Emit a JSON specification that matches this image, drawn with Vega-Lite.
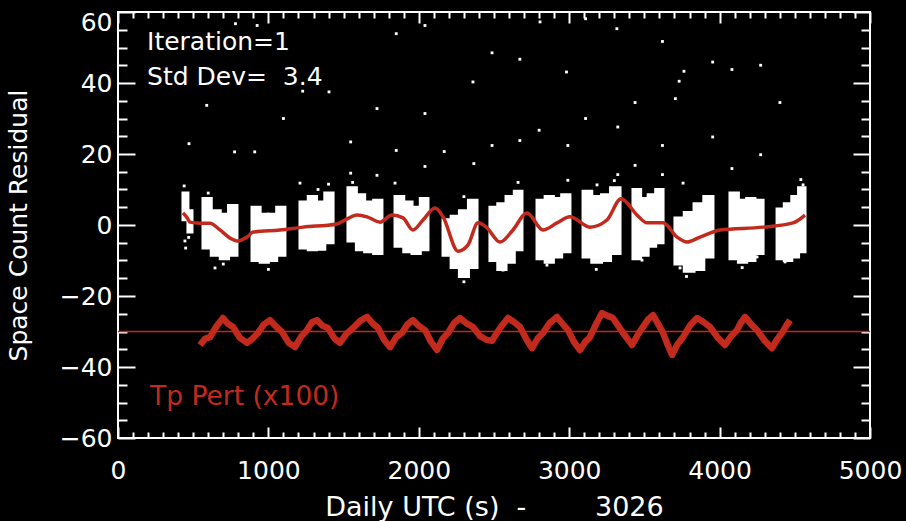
{
  "$schema": "https://vega.github.io/schema/vega-lite/v6.json",
  "width": 752,
  "height": 426,
  "autosize": {"type": "none"},
  "padding": {"left": 118, "top": 12, "right": 36, "bottom": 83},
  "background": "black",
  "config": {
    "view": {"stroke": "white", "strokeWidth": 2, "fill": "black"},
    "axis": {
      "labelColor": "white",
      "tickColor": "white",
      "tickWidth": 2,
      "labelFont": "DejaVu Sans",
      "labelFontSize": 25,
      "titleFont": "DejaVu Sans",
      "titleFontSize": 25,
      "titleFontWeight": "normal",
      "titleColor": "white",
      "grid": false,
      "domain": false,
      "labelOverlap": false,
      "labelFlush": false
    }
  },
  "datasets": {
    "clusters": [
      {"t0": 432, "t1": 465, "r0": 9, "r1": 1.5},
      {"t0": 465, "t1": 492, "r0": 4, "r1": -2},
      {"t0": 565, "t1": 620, "r0": 7.5, "r1": -6.5},
      {"t0": 620, "t1": 680, "r0": 4.0, "r1": -8.5},
      {"t0": 680, "t1": 735, "r0": 3.0, "r1": -9.5},
      {"t0": 735, "t1": 791, "r0": 5.5, "r1": -8.5},
      {"t0": 891, "t1": 945, "r0": 5.0, "r1": -10.0},
      {"t0": 945, "t1": 1000, "r0": 3.0, "r1": -10.5},
      {"t0": 1000, "t1": 1055, "r0": 3.0, "r1": -10.0},
      {"t0": 1055, "t1": 1110, "r0": 5.0, "r1": -8.5},
      {"t0": 1210, "t1": 1265, "r0": 6.5, "r1": -6.5},
      {"t0": 1265, "t1": 1320, "r0": 8.0, "r1": -7.0},
      {"t0": 1320, "t1": 1375, "r0": 6.5, "r1": -6.8},
      {"t0": 1375, "t1": 1430, "r0": 9.0, "r1": -5.0},
      {"t0": 1529, "t1": 1585, "r0": 10.5, "r1": -4.5},
      {"t0": 1585, "t1": 1640, "r0": 8.5, "r1": -7.0},
      {"t0": 1640, "t1": 1700, "r0": 6.5, "r1": -7.5},
      {"t0": 1700, "t1": 1755, "r0": 7.0, "r1": -8.0},
      {"t0": 1842, "t1": 1900, "r0": 8.0, "r1": -6.0},
      {"t0": 1900, "t1": 1955, "r0": 6.5, "r1": -7.5},
      {"t0": 1955, "t1": 2010, "r0": 5.0, "r1": -8.0},
      {"t0": 2010, "t1": 2061, "r0": 7.5, "r1": -7.0},
      {"t0": 2161, "t1": 2215, "r0": 1.5, "r1": -8.5},
      {"t0": 2215, "t1": 2270, "r0": 2.5, "r1": -12.0},
      {"t0": 2270, "t1": 2330, "r0": 4.0, "r1": -14.5},
      {"t0": 2330, "t1": 2387, "r0": 7.0, "r1": -12.0},
      {"t0": 2473, "t1": 2525, "r0": 5.0, "r1": -10.0},
      {"t0": 2525, "t1": 2580, "r0": 6.0, "r1": -12.5},
      {"t0": 2580, "t1": 2635, "r0": 8.0, "r1": -10.5},
      {"t0": 2635, "t1": 2686, "r0": 9.5, "r1": -7.0},
      {"t0": 2786, "t1": 2840, "r0": 7.0, "r1": -9.5},
      {"t0": 2840, "t1": 2895, "r0": 8.0, "r1": -10.5},
      {"t0": 2895, "t1": 2950, "r0": 7.5, "r1": -9.0},
      {"t0": 2950, "t1": 3005, "r0": 8.5, "r1": -7.5},
      {"t0": 3092, "t1": 3150, "r0": 9.5, "r1": -9.0},
      {"t0": 3150, "t1": 3215, "r0": 8.0, "r1": -10.5},
      {"t0": 3215, "t1": 3275, "r0": 8.5, "r1": -10.0},
      {"t0": 3275, "t1": 3338, "r0": 10.5, "r1": -8.0},
      {"t0": 3424, "t1": 3475, "r0": 10.0, "r1": -9.5},
      {"t0": 3475, "t1": 3525, "r0": 7.5, "r1": -8.5},
      {"t0": 3525, "t1": 3575, "r0": 8.5, "r1": -6.0},
      {"t0": 3575, "t1": 3624, "r0": 10.0, "r1": -5.0},
      {"t0": 3703, "t1": 3765, "r0": 2.0, "r1": -11.0},
      {"t0": 3765, "t1": 3830, "r0": 3.5, "r1": -13.0},
      {"t0": 3830, "t1": 3895, "r0": 6.0, "r1": -12.5},
      {"t0": 3895, "t1": 3956, "r0": 8.0, "r1": -9.0},
      {"t0": 4069, "t1": 4125, "r0": 9.0, "r1": -9.5},
      {"t0": 4125, "t1": 4180, "r0": 7.0, "r1": -10.5},
      {"t0": 4180, "t1": 4235, "r0": 7.5, "r1": -10.0},
      {"t0": 4235, "t1": 4289, "r0": 7.0, "r1": -8.0},
      {"t0": 4382, "t1": 4430, "r0": 4.5, "r1": -9.5},
      {"t0": 4430, "t1": 4480, "r0": 6.0, "r1": -10.0},
      {"t0": 4480, "t1": 4525, "r0": 8.0, "r1": -9.0},
      {"t0": 4525, "t1": 4568, "r0": 10.5, "r1": -7.5}
    ],
    "outliers": [
      {"t": 781, "r": 56.7}, {"t": 925, "r": 56.2}, {"t": 2041, "r": 56.2}, {"t": 1850, "r": 53.9},
      {"t": 3317, "r": 55.3}, {"t": 3620, "r": 51.7}, {"t": 2806, "r": 57.2}, {"t": 3109, "r": 58.1},
      {"t": 2487, "r": 48.5}, {"t": 2672, "r": 46.7}, {"t": 3954, "r": 45.9}, {"t": 4082, "r": 43.8},
      {"t": 4273, "r": 45.0}, {"t": 2982, "r": 43.1}, {"t": 3763, "r": 43.3}, {"t": 3731, "r": 40.5},
      {"t": 2360, "r": 40.3}, {"t": 1228, "r": 37.7}, {"t": 1403, "r": 37.5}, {"t": 590, "r": 33.7},
      {"t": 1722, "r": 32.8}, {"t": 2041, "r": 31.4}, {"t": 3438, "r": 34.5}, {"t": 3706, "r": 35.6},
      {"t": 4401, "r": 34.5}, {"t": 1100, "r": 30.0}, {"t": 3109, "r": 30.0}, {"t": 3323, "r": 27.6},
      {"t": 2800, "r": 26.7}, {"t": 472, "r": 22.9}, {"t": 1547, "r": 23.4}, {"t": 775, "r": 20.6},
      {"t": 909, "r": 20.6}, {"t": 1850, "r": 21.0}, {"t": 2169, "r": 20.7}, {"t": 2487, "r": 22.4},
      {"t": 2672, "r": 23.8}, {"t": 2991, "r": 22.4}, {"t": 3620, "r": 22.4}, {"t": 3954, "r": 24.8},
      {"t": 4273, "r": 19.8}, {"t": 2041, "r": 16.5}, {"t": 2366, "r": 17.3}, {"t": 3438, "r": 16.8},
      {"t": 4082, "r": 15.9}, {"t": 1547, "r": 14.6}, {"t": 1722, "r": 14.0}, {"t": 3323, "r": 14.2},
      {"t": 3620, "r": 14.2}, {"t": 2991, "r": 12.6}, {"t": 1210, "r": 11.8}, {"t": 1842, "r": 11.8},
      {"t": 3185, "r": 11.3}, {"t": 3757, "r": 11.8}, {"t": 4555, "r": 11.3}, {"t": 440, "r": 11.0},
      {"t": 1400, "r": 11.5}, {"t": 645, "r": -12.1}, {"t": 2852, "r": -11.3}, {"t": 3484, "r": -9.9},
      {"t": 3737, "r": -12.1}, {"t": 4249, "r": -9.0}, {"t": 4435, "r": -10.4}, {"t": 2560, "r": -12.7},
      {"t": 1000, "r": -12.5}, {"t": 445, "r": -4.5}, {"t": 450, "r": -6.5}, {"t": 470, "r": -3.5},
      {"t": 600, "r": 9.0}, {"t": 1330, "r": 10.0}, {"t": 1560, "r": 12.0}, {"t": 2300, "r": 8.0},
      {"t": 2660, "r": 12.0}, {"t": 3300, "r": 12.5}, {"t": 4540, "r": 12.8}, {"t": 700, "r": -11.0},
      {"t": 2300, "r": -16.0}, {"t": 3780, "r": -14.5}, {"t": 3180, "r": -12.5}, {"t": 4150, "r": -12.0}
    ],
    "fit": [
      {"t": 432, "r": 3.4}, {"t": 460, "r": 2.0}, {"t": 479, "r": 0.8}, {"t": 545, "r": 0.5},
      {"t": 612, "r": 0.5}, {"t": 678, "r": -1.4}, {"t": 745, "r": -3.7}, {"t": 791, "r": -4.5},
      {"t": 858, "r": -3.4}, {"t": 898, "r": -2.0}, {"t": 1077, "r": -1.4}, {"t": 1230, "r": -0.6},
      {"t": 1456, "r": 0.3}, {"t": 1523, "r": 1.7}, {"t": 1589, "r": 2.8}, {"t": 1656, "r": 2.3},
      {"t": 1742, "r": 0.8}, {"t": 1822, "r": 2.8}, {"t": 1895, "r": 2.0}, {"t": 1961, "r": -1.4},
      {"t": 2028, "r": 1.4}, {"t": 2108, "r": 4.8}, {"t": 2161, "r": 2.3}, {"t": 2261, "r": -7.4},
      {"t": 2327, "r": -5.6}, {"t": 2394, "r": 0.6}, {"t": 2453, "r": -0.8}, {"t": 2540, "r": -4.8},
      {"t": 2626, "r": -1.4}, {"t": 2719, "r": 3.4}, {"t": 2826, "r": -1.4}, {"t": 2919, "r": 0.6},
      {"t": 3005, "r": 2.3}, {"t": 3138, "r": -0.6}, {"t": 3251, "r": 1.4}, {"t": 3345, "r": 7.4},
      {"t": 3451, "r": 2.8}, {"t": 3517, "r": 0.6}, {"t": 3624, "r": 0.6}, {"t": 3717, "r": -3.4},
      {"t": 3783, "r": -4.8}, {"t": 3870, "r": -3.4}, {"t": 4003, "r": -1.4}, {"t": 4289, "r": -0.6},
      {"t": 4488, "r": 0.6}, {"t": 4568, "r": 2.8}
    ],
    "tp": [
      {"t": 545, "r": -33.8}, {"t": 580, "r": -32.0}, {"t": 612, "r": -31.6}, {"t": 655, "r": -28.5}, {"t": 698, "r": -26.2},
      {"t": 730, "r": -27.8}, {"t": 765, "r": -28.7}, {"t": 810, "r": -31.8}, {"t": 858, "r": -33.2},
      {"t": 895, "r": -32.0}, {"t": 931, "r": -30.4}, {"t": 970, "r": -28.0}, {"t": 1011, "r": -26.8},
      {"t": 1050, "r": -28.6}, {"t": 1090, "r": -30.1}, {"t": 1135, "r": -33.2}, {"t": 1177, "r": -34.4},
      {"t": 1215, "r": -31.6}, {"t": 1257, "r": -29.6}, {"t": 1290, "r": -27.4}, {"t": 1323, "r": -26.8},
      {"t": 1360, "r": -28.4}, {"t": 1396, "r": -29.0}, {"t": 1440, "r": -32.0}, {"t": 1476, "r": -33.2},
      {"t": 1520, "r": -30.6}, {"t": 1563, "r": -29.0}, {"t": 1610, "r": -27.0}, {"t": 1656, "r": -25.9},
      {"t": 1690, "r": -27.6}, {"t": 1729, "r": -29.0}, {"t": 1770, "r": -32.4}, {"t": 1809, "r": -34.4},
      {"t": 1850, "r": -31.6}, {"t": 1888, "r": -30.4}, {"t": 1925, "r": -28.0}, {"t": 1961, "r": -26.8},
      {"t": 2000, "r": -28.4}, {"t": 2041, "r": -29.6}, {"t": 2080, "r": -32.8}, {"t": 2121, "r": -35.2},
      {"t": 2160, "r": -32.0}, {"t": 2194, "r": -30.4}, {"t": 2235, "r": -27.6}, {"t": 2274, "r": -26.2},
      {"t": 2320, "r": -27.8}, {"t": 2360, "r": -28.7}, {"t": 2410, "r": -31.4}, {"t": 2453, "r": -32.4},
      {"t": 2487, "r": -32.6}, {"t": 2540, "r": -29.0}, {"t": 2593, "r": -26.2}, {"t": 2635, "r": -27.4},
      {"t": 2673, "r": -28.7}, {"t": 2715, "r": -32.2}, {"t": 2753, "r": -34.7}, {"t": 2790, "r": -32.0},
      {"t": 2826, "r": -30.4}, {"t": 2870, "r": -27.6}, {"t": 2919, "r": -25.9}, {"t": 2955, "r": -27.8},
      {"t": 2992, "r": -29.6}, {"t": 3030, "r": -32.8}, {"t": 3072, "r": -35.2}, {"t": 3105, "r": -33.0},
      {"t": 3138, "r": -31.6}, {"t": 3180, "r": -27.8}, {"t": 3218, "r": -24.8}, {"t": 3255, "r": -25.6},
      {"t": 3291, "r": -26.2}, {"t": 3355, "r": -30.2}, {"t": 3418, "r": -33.8}, {"t": 3455, "r": -31.0},
      {"t": 3491, "r": -28.7}, {"t": 3525, "r": -26.6}, {"t": 3557, "r": -25.4}, {"t": 3590, "r": -27.8},
      {"t": 3624, "r": -30.4}, {"t": 3655, "r": -33.8}, {"t": 3684, "r": -36.6}, {"t": 3720, "r": -33.6},
      {"t": 3757, "r": -31.6}, {"t": 3805, "r": -28.2}, {"t": 3850, "r": -26.2}, {"t": 3895, "r": -27.4},
      {"t": 3936, "r": -28.7}, {"t": 3985, "r": -31.6}, {"t": 4036, "r": -33.8}, {"t": 4075, "r": -31.4},
      {"t": 4116, "r": -29.6}, {"t": 4140, "r": -27.6}, {"t": 4169, "r": -25.9}, {"t": 4210, "r": -28.0},
      {"t": 4249, "r": -29.6}, {"t": 4300, "r": -32.6}, {"t": 4348, "r": -34.7}, {"t": 4380, "r": -32.4},
      {"t": 4415, "r": -30.4}, {"t": 4440, "r": -28.6}, {"t": 4468, "r": -26.8}
    ]
  },
  "layer": [
    {
      "data": {"name": "clusters"},
      "mark": {"type": "rect", "color": "white", "stroke": "white", "strokeWidth": 3},
      "encoding": {
        "x": {
          "field": "t0", "type": "quantitative",
          "scale": {"domain": [0, 5000], "nice": false, "zero": false},
          "axis": {
            "orient": "bottom",
            "values": [0,100,200,300,400,500,600,700,800,900,1000,1100,1200,1300,1400,1500,1600,1700,1800,1900,2000,2100,2200,2300,2400,2500,2600,2700,2800,2900,3000,3100,3200,3300,3400,3500,3600,3700,3800,3900,4000,4100,4200,4300,4400,4500,4600,4700,4800,4900,5000],
            "format": "d",
            "labelExpr": "datum.value % 1000 === 0 ? datum.label : ''",
            "tickSize": {"condition": {"test": "datum.value % 1000 === 0", "value": -11}, "value": -6},
            "labelPadding": 31,
            "title": "Daily UTC (s)\u00a0\u00a0-\u00a0\u00a0\u00a0\u00a0\u00a0\u00a0\u00a0\u00a03026",
            "titleFontSize": 27,
            "titlePadding": 6
          }
        },
        "x2": {"field": "t1"},
        "y": {
          "field": "r0", "type": "quantitative",
          "scale": {"domain": [-60, 60], "nice": false, "zero": false},
          "axis": {
            "orient": "left",
            "values": [-60,-55,-50,-45,-40,-35,-30,-25,-20,-15,-10,-5,0,5,10,15,20,25,30,35,40,45,50,55,60],
            "format": "d",
            "labelExpr": "datum.value % 20 === 0 ? datum.label : ''",
            "tickSize": {"condition": {"test": "datum.value % 20 === 0", "value": -17}, "value": -9},
            "labelPadding": 23,
            "labelOffset": {"condition": {"test": "datum.value === 60", "value": 10}, "value": 0},
            "title": "Space Count Residual",
            "titlePadding": 28
          }
        },
        "y2": {"field": "r1"}
      }
    },
    {
      "data": {"name": "outliers"},
      "mark": {"type": "square", "color": "white", "filled": true, "size": 8, "opacity": 1},
      "encoding": {
        "x": {
          "field": "t", "type": "quantitative",
          "scale": {"domain": [0, 5000], "nice": false, "zero": false},
          "axis": {
            "orient": "top",
            "values": [0,100,200,300,400,500,600,700,800,900,1000,1100,1200,1300,1400,1500,1600,1700,1800,1900,2000,2100,2200,2300,2400,2500,2600,2700,2800,2900,3000,3100,3200,3300,3400,3500,3600,3700,3800,3900,4000,4100,4200,4300,4400,4500,4600,4700,4800,4900,5000],
            "labels": false,
            "tickSize": {"condition": {"test": "datum.value % 1000 === 0", "value": -11}, "value": -6},
            "title": null
          }
        },
        "y": {
          "field": "r", "type": "quantitative",
          "scale": {"domain": [-60, 60], "nice": false, "zero": false},
          "axis": {
            "orient": "right",
            "values": [-60,-55,-50,-45,-40,-35,-30,-25,-20,-15,-10,-5,0,5,10,15,20,25,30,35,40,45,50,55,60],
            "labels": false,
            "tickSize": {"condition": {"test": "datum.value % 20 === 0", "value": -17}, "value": -9},
            "title": null
          }
        }
      }
    },
    {
      "data": {"name": "fit"},
      "mark": {"type": "line", "color": "#c22a1e", "strokeWidth": 3.5, "interpolate": "monotone"},
      "encoding": {
        "x": {"field": "t", "type": "quantitative", "scale": {"domain": [0, 5000], "nice": false, "zero": false}, "axis": null},
        "y": {"field": "r", "type": "quantitative", "scale": {"domain": [-60, 60], "nice": false, "zero": false}, "axis": null}
      }
    },
    {
      "data": {"values": [{}]},
      "mark": {"type": "rule", "color": "#c22a1e", "strokeWidth": 1.5},
      "encoding": {
        "y": {"datum": -30, "type": "quantitative", "scale": {"domain": [-60, 60], "nice": false, "zero": false}, "axis": null}
      }
    },
    {
      "data": {"name": "tp"},
      "mark": {"type": "line", "color": "#c22a1e", "strokeWidth": 6.5, "strokeJoin": "round"},
      "encoding": {
        "x": {"field": "t", "type": "quantitative", "scale": {"domain": [0, 5000], "nice": false, "zero": false}, "axis": null},
        "y": {"field": "r", "type": "quantitative", "scale": {"domain": [-60, 60], "nice": false, "zero": false}, "axis": null}
      }
    },
    {
      "data": {"values": [{}]},
      "mark": {"type": "text", "color": "white", "font": "DejaVu Sans", "fontSize": 25, "align": "left", "baseline": "alphabetic"},
      "encoding": {
        "x": {"datum": 193, "type": "quantitative", "axis": null},
        "y": {"datum": 49.3, "type": "quantitative", "axis": null},
        "text": {"value": "Iteration=1"}
      }
    },
    {
      "data": {"values": [{}]},
      "mark": {"type": "text", "color": "white", "font": "DejaVu Sans", "fontSize": 25, "align": "left", "baseline": "alphabetic"},
      "encoding": {
        "x": {"datum": 193, "type": "quantitative", "axis": null},
        "y": {"datum": 39.4, "type": "quantitative", "axis": null},
        "text": {"value": "Std Dev=\u00a0\u00a03.4"}
      }
    },
    {
      "data": {"values": [{}]},
      "mark": {"type": "text", "color": "#c22a1e", "font": "DejaVu Sans", "fontSize": 26.5, "align": "left", "baseline": "alphabetic"},
      "encoding": {
        "x": {"datum": 213, "type": "quantitative", "axis": null},
        "y": {"datum": -50.7, "type": "quantitative", "axis": null},
        "text": {"value": "Tp Pert (x100)"}
      }
    }
  ],
  "resolve": {"axis": {"x": "independent", "y": "independent"}}
}
